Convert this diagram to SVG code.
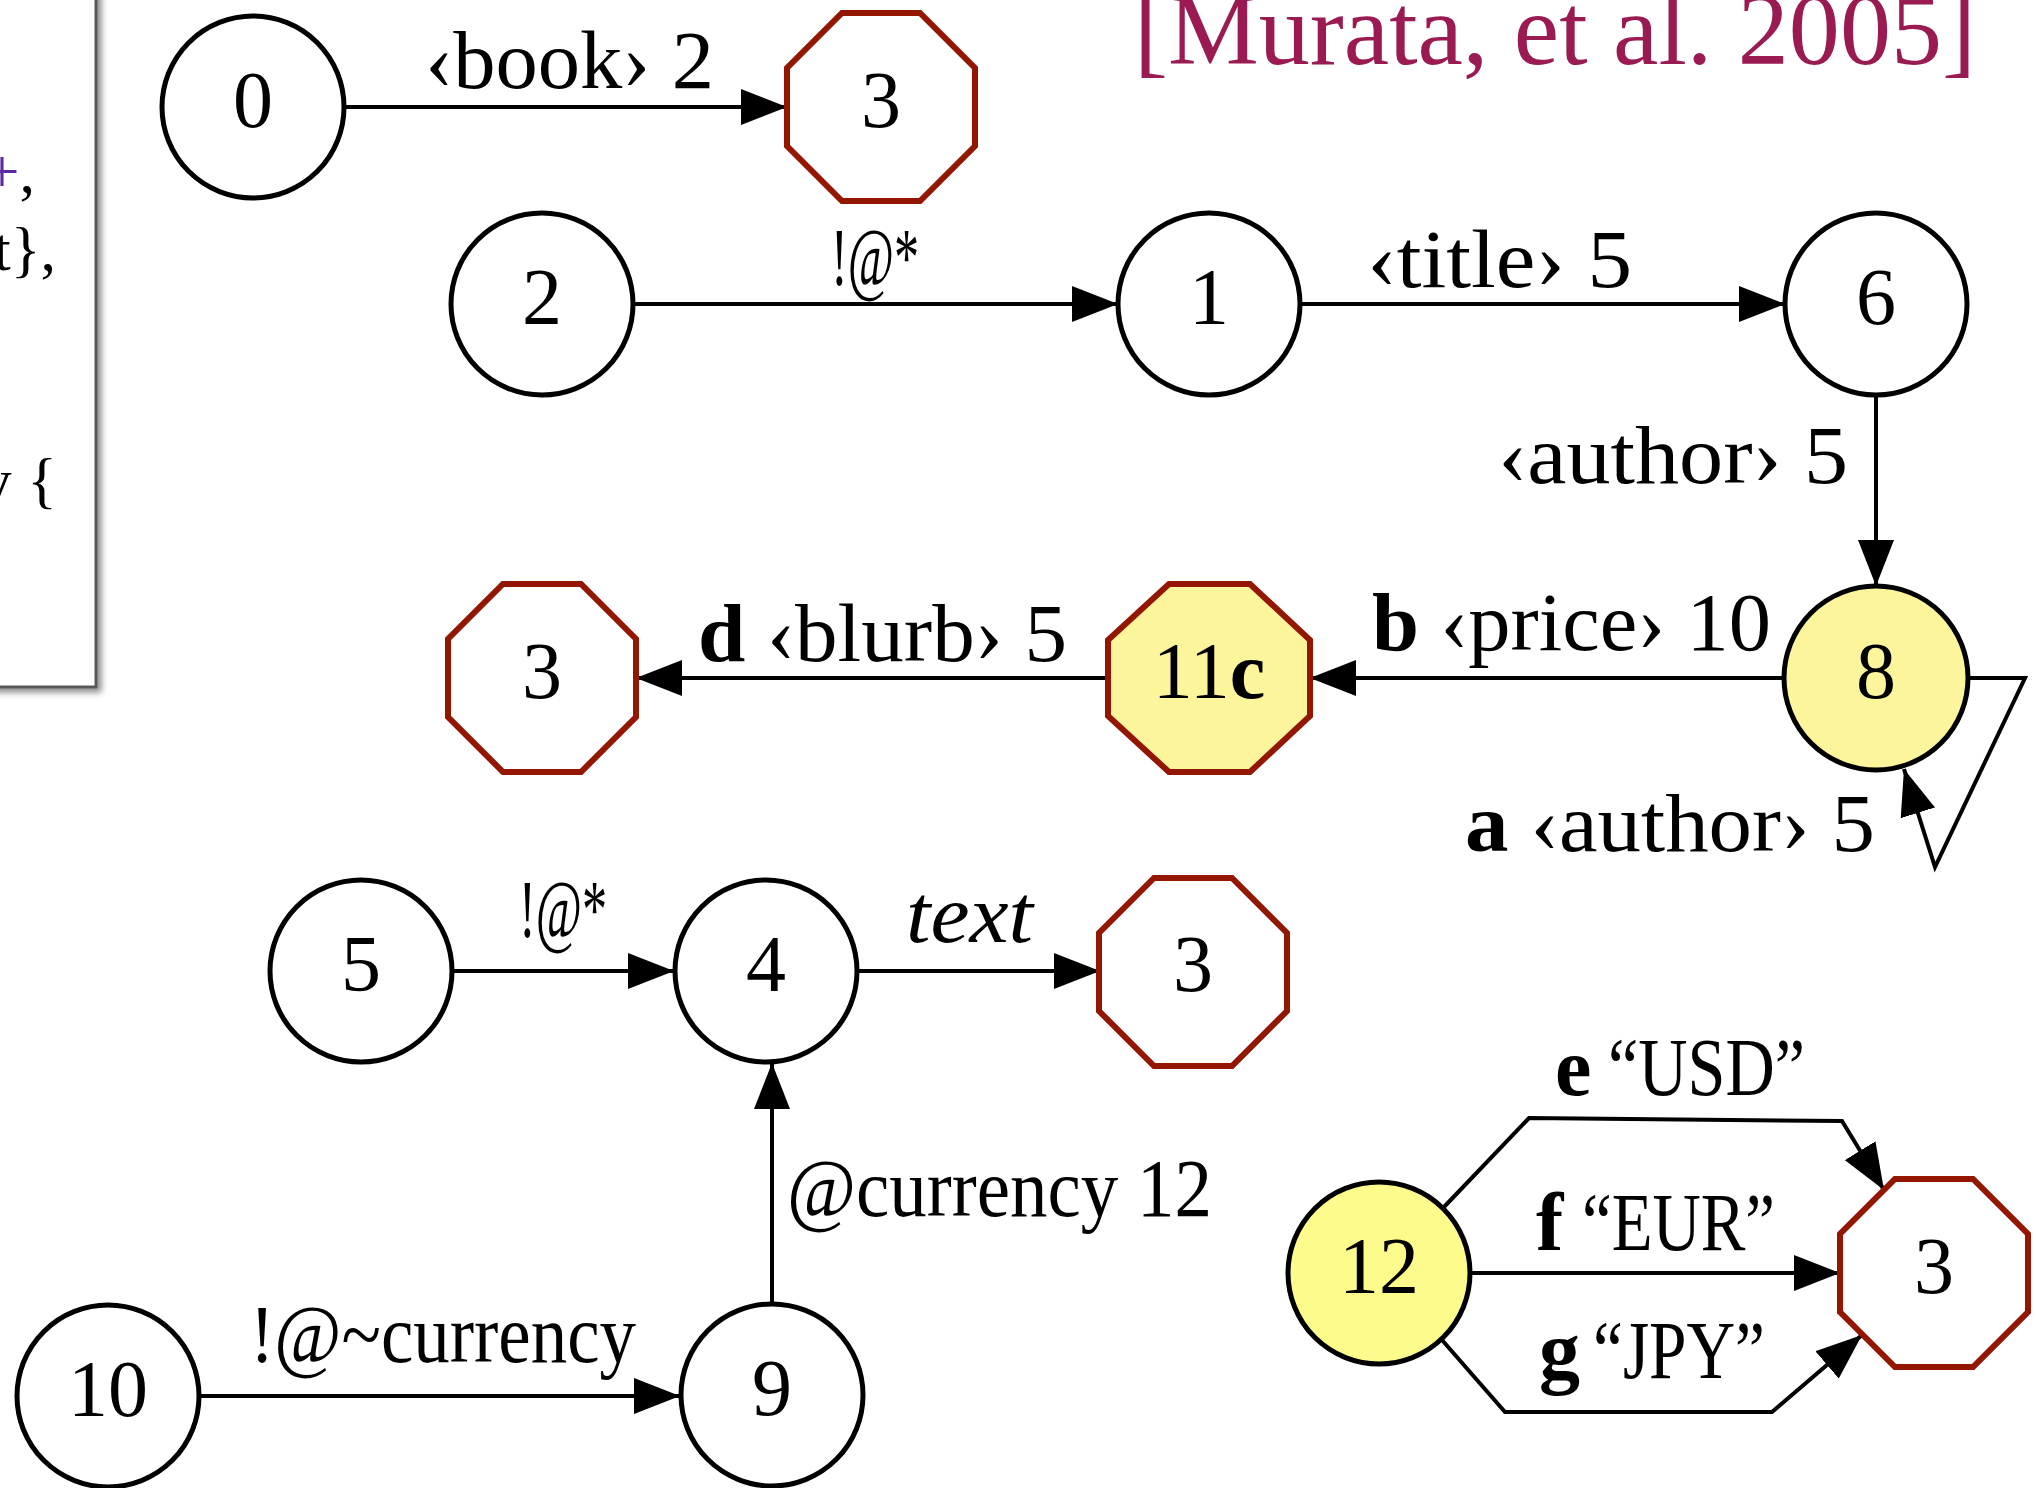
<svg xmlns="http://www.w3.org/2000/svg" width="2036" height="1488" viewBox="0 0 2036 1488">
<style>
  text { font-family: "Liberation Serif", "Times New Roman", serif; fill: #000; }
  .nl { font-size: 80px; text-anchor: middle; }
  .el { font-size: 82px; }
  .bx { font-size: 62px; text-anchor: end; }
  .b { font-weight: bold; }
  .circ { fill: #fff; stroke: #000; stroke-width: 5; }
  .circY { fill: #fdf59c; stroke: #000; stroke-width: 5; }
  .circY2 { fill: #fcfb8c; stroke: #000; stroke-width: 5; }
  .oct { fill: #fff; stroke: #921600; stroke-width: 6; }
  .octY { fill: #fdf59c; stroke: #921600; stroke-width: 6; }
  .edge { fill: none; stroke: #000; stroke-width: 4; marker-end: url(#arrow); }
</style>
<defs>
  <marker id="arrow" viewBox="0 0 46 36" refX="46" refY="18" markerWidth="46" markerHeight="36" markerUnits="userSpaceOnUse" orient="auto">
    <path d="M0,0 L46,18 L0,36 Z" fill="#000"/>
  </marker>
  <filter id="shadow" x="-20%" y="-20%" width="150%" height="150%">
    <feDropShadow dx="4" dy="4" stdDeviation="3" flood-color="#000" flood-opacity="0.45"/>
  </filter>
</defs>
<rect x="0" y="0" width="2036" height="1488" fill="#fff"/>

<g id="code-box">
  <rect x="-20" y="-20" width="116" height="707" fill="#fff" stroke="#585858" stroke-width="3" filter="url(#shadow)"/>
  <text class="bx" x="35" y="192"><tspan fill="#5b2aa0">+</tspan>,</text>
  <text class="bx" x="56" y="270">xt},</text>
  <text class="bx" x="57" y="501">y {</text>
</g>

<text id="title" x="1134" y="64" font-size="102" textLength="842" lengthAdjust="spacingAndGlyphs" style="fill:#9a1b52">[Murata, et al. 2005]</text>

<g id="connectors">
  <line class="edge" x1="345" y1="107" x2="787" y2="107"/>
  <line class="edge" x1="633" y1="304" x2="1118" y2="304"/>
  <line class="edge" x1="1301" y1="304" x2="1785" y2="304"/>
  <line class="edge" x1="1876" y1="396" x2="1876" y2="586"/>
  <line class="edge" x1="1784" y1="678" x2="1310" y2="678"/>
  <line class="edge" x1="1108" y1="678" x2="636" y2="678"/>
  <polyline class="edge" points="1968,678 2025,678 1935,867 1904,769"/>
  <line class="edge" x1="452" y1="971" x2="674" y2="971"/>
  <line class="edge" x1="858" y1="971" x2="1100" y2="971"/>
  <line class="edge" x1="772" y1="1304" x2="772" y2="1063"/>
  <line class="edge" x1="199" y1="1396" x2="680" y2="1396"/>
  <polyline class="edge" points="1444,1207 1529,1118 1842,1121 1884,1190"/>
  <line class="edge" x1="1470" y1="1273" x2="1840" y2="1273"/>
  <polyline class="edge" points="1442,1340 1505,1412 1772,1412 1862,1335"/>

  <text class="el" x="425" y="88" textLength="289" lengthAdjust="spacingAndGlyphs">‹book› 2</text>
  <text class="el" x="831" y="285" textLength="88" lengthAdjust="spacingAndGlyphs">!@*</text>
  <text class="el" x="1367" y="287" textLength="265" lengthAdjust="spacingAndGlyphs">‹title› 5</text>
  <text class="el" x="1498" y="483" textLength="350" lengthAdjust="spacingAndGlyphs">‹author› 5</text>
  <text class="el" x="1372" y="650" textLength="399" lengthAdjust="spacingAndGlyphs"><tspan class="b">b</tspan> ‹price› 10</text>
  <text class="el" x="698" y="661" textLength="369" lengthAdjust="spacingAndGlyphs"><tspan class="b">d</tspan> ‹blurb› 5</text>
  <text class="el" x="1465" y="851" textLength="410" lengthAdjust="spacingAndGlyphs"><tspan class="b">a</tspan> ‹author› 5</text>
  <text class="el" x="519" y="937" textLength="88" lengthAdjust="spacingAndGlyphs">!@*</text>
  <text class="el" x="906" y="942" font-style="italic" textLength="127" lengthAdjust="spacingAndGlyphs">text</text>
  <text class="el" x="787" y="1216" textLength="425" lengthAdjust="spacingAndGlyphs">@currency 12</text>
  <text class="el" x="250" y="1362" textLength="386" lengthAdjust="spacingAndGlyphs">!@~currency</text>
  <text class="el b" x="1555" y="1095">e</text>
  <text class="el" x="1608" y="1095" textLength="197" lengthAdjust="spacingAndGlyphs">“USD”</text>
  <text class="el b" x="1536" y="1250">f</text>
  <text class="el" x="1582" y="1250" textLength="193" lengthAdjust="spacingAndGlyphs">“EUR”</text>
  <text class="el b" x="1539" y="1378">g</text>
  <text class="el" x="1593" y="1378" textLength="172" lengthAdjust="spacingAndGlyphs">“JPY”</text>
</g>

<g id="n0"><circle class="circ" cx="253" cy="107" r="91"/><text class="nl" x="253" y="127">0</text></g>
<g id="n3a"><polygon class="oct" points="842,13 920,13 975,68 975,146 920,201 842,201 787,146 787,68"/><text class="nl" x="881" y="127">3</text></g>
<g id="n2"><circle class="circ" cx="542" cy="304" r="91"/><text class="nl" x="542" y="324">2</text></g>
<g id="n1"><circle class="circ" cx="1209" cy="304" r="91"/><text class="nl" x="1209" y="324">1</text></g>
<g id="n6"><circle class="circ" cx="1876" cy="304" r="91"/><text class="nl" x="1876" y="324">6</text></g>
<g id="n8"><circle class="circY" cx="1876" cy="678" r="92"/><text class="nl" x="1876" y="698">8</text></g>
<g id="n11c"><polygon class="octY" points="1169,584 1250,584 1310,640 1310,716 1250,772 1169,772 1108,716 1108,640"/><text class="nl" x="1209" y="698">11<tspan class="b">c</tspan></text></g>
<g id="n3b"><polygon class="oct" points="503,584 581,584 636,639 636,717 581,772 503,772 448,717 448,639"/><text class="nl" x="542" y="698">3</text></g>
<g id="n5"><circle class="circ" cx="361" cy="971" r="91"/><text class="nl" x="361" y="991">5</text></g>
<g id="n4"><circle class="circ" cx="766" cy="971" r="91"/><text class="nl" x="766" y="991">4</text></g>
<g id="n3c"><polygon class="oct" points="1154,878 1232,878 1287,933 1287,1011 1232,1066 1154,1066 1099,1011 1099,933"/><text class="nl" x="1193" y="991">3</text></g>
<g id="n10"><circle class="circ" cx="108" cy="1396" r="91"/><text class="nl" x="108" y="1416">10</text></g>
<g id="n9"><circle class="circ" cx="772" cy="1395" r="91"/><text class="nl" x="772" y="1415">9</text></g>
<g id="n12"><circle class="circY2" cx="1379" cy="1273" r="91"/><text class="nl" x="1379" y="1293">12</text></g>
<g id="n3d"><polygon class="oct" points="1895,1179 1973,1179 2028,1234 2028,1312 1973,1367 1895,1367 1840,1312 1840,1234"/><text class="nl" x="1934" y="1293">3</text></g>
</svg>
